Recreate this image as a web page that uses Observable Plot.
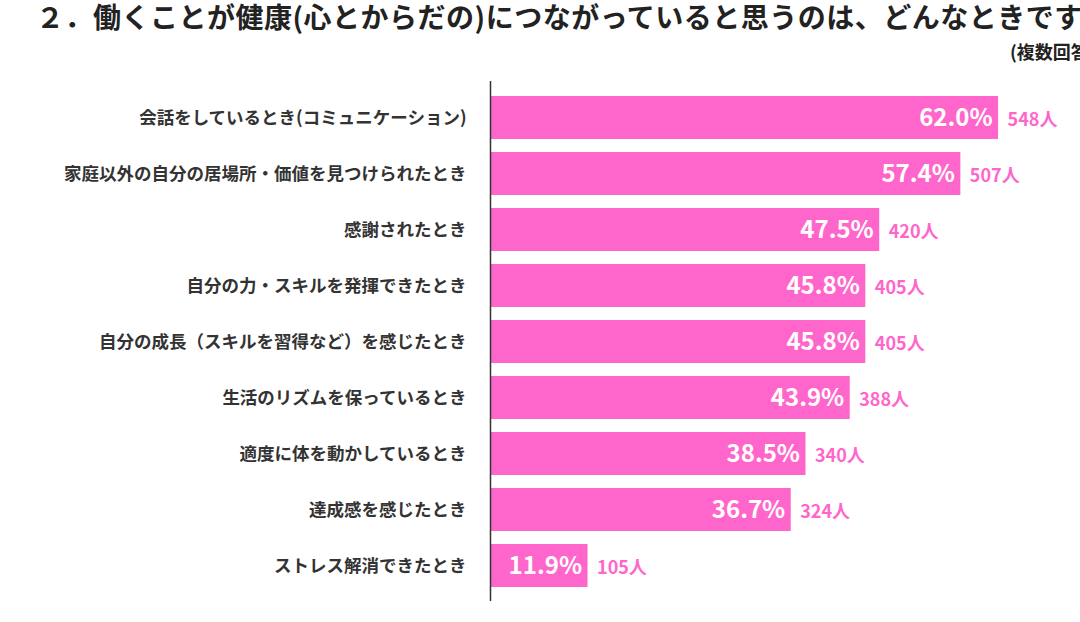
<!DOCTYPE html>
<html><head><meta charset="utf-8">
<script src="https://cdn.jsdelivr.net/npm/d3@7"></script>
<script src="https://cdn.jsdelivr.net/npm/@observablehq/plot@0.6"></script>
<style>
html,body{margin:0;padding:0;width:1080px;height:622px;overflow:hidden;background:#fff;font-family:"Noto Sans CJK JP",sans-serif;}
#title{position:absolute;left:36px;top:-4px;font-size:28px;font-weight:bold;color:#222;white-space:nowrap;letter-spacing:0.5px;}
#sub{position:absolute;left:1010px;top:38px;font-size:18px;font-weight:bold;color:#222;white-space:nowrap;}
#chart{position:absolute;left:0;top:81px;}
</style></head><body>
<div id="title">２．働くことが健康(心とからだの)につながっていると思うのは、どんなときですか？</div>
<div id="sub">(複数回答)</div>
<div id="chart"></div>
<script>
const categories = ["会話をしているとき(コミュニケーション)","家庭以外の自分の居場所・価値を見つけられたとき","感謝されたとき","自分の力・スキルを発揮できたとき","自分の成長（スキルを習得など）を感じたとき","生活のリズムを保っているとき","適度に体を動かしているとき","達成感を感じたとき","ストレス解消できたとき"];
const percents = [62.0,57.4,47.5,45.8,45.8,43.9,38.5,36.7,11.9];
const counts = [548,507,420,405,405,388,340,324,105];
const data = categories.map((c,i)=>({c,p:percents[i],n:counts[i]}));
const chart = Plot.plot({
  width:1080,height:520,marginLeft:490,marginRight:0,marginTop:0,marginBottom:0,
  x:{domain:[0,72],axis:null},
  y:{domain:categories,padding:0.24,label:null,tickSize:0,tickPadding:24},
  style:{fontFamily:"Noto Sans CJK JP",fontSize:"17.5px",fontWeight:"bold",color:"#333"},
  marks:[
    Plot.barX(data,{x:"p",y:"c",fill:"#ff66cc"}),
    Plot.text(data,{x:"p",y:"c",text:d=>d.p.toFixed(1)+"%",textAnchor:"end",dx:-6,fill:"#fff",fontSize:24,fontWeight:"bold"}),
    Plot.text(data,{x:"p",y:"c",text:d=>d.n+"人",textAnchor:"start",dx:9,dy:2,fill:"#ff66cc",fontSize:18,fontWeight:"bold"}),
    Plot.ruleX([0],{stroke:"#333",strokeWidth:1.5,y1:()=>categories[0],y2:()=>categories[8],insetTop:-36,insetBottom:-30})
  ]
});
document.getElementById("chart").append(chart);
</script></body></html>
